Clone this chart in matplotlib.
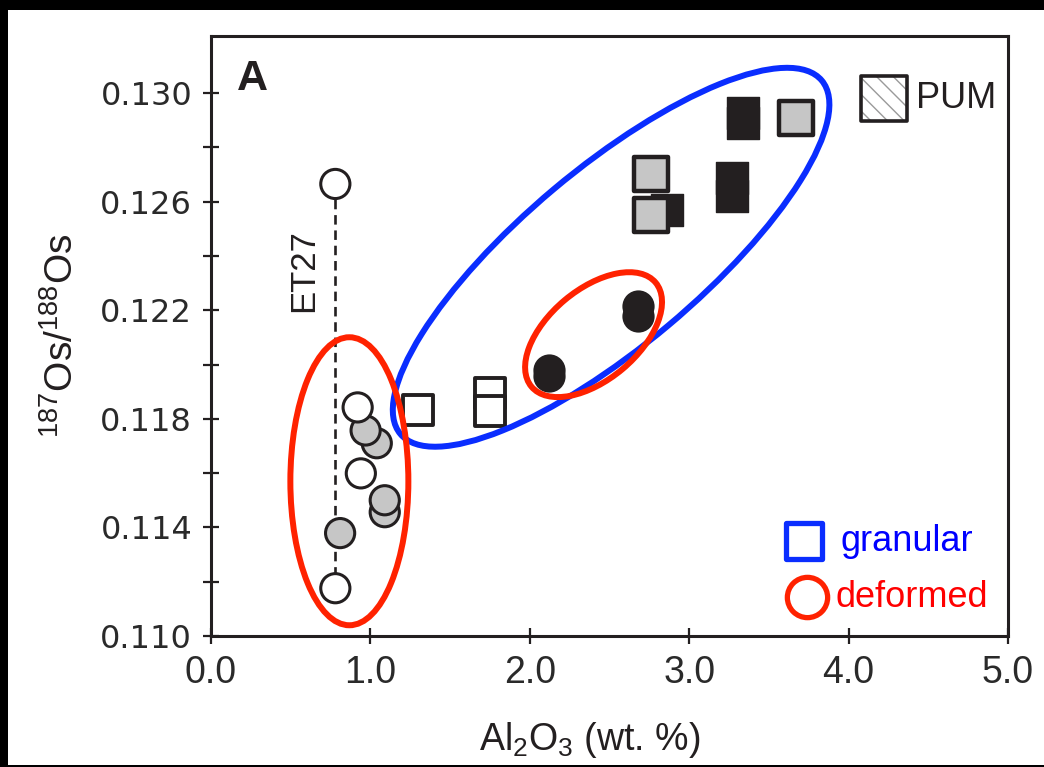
import numpy as np
import matplotlib
matplotlib.use('Agg')
import matplotlib.pyplot as plt
from matplotlib.patches import Ellipse, Rectangle
from matplotlib.markers import MarkerStyle
from matplotlib.transforms import ScaledTranslation
from matplotlib import font_manager

# ---------------- data: Al2O3 (wt.%) vs 187Os/188Os ----------------
# deformed samples (circles)
open_circ_al = [0.78, 0.92, 0.94, 0.78]
open_circ_os = [0.12665, 0.11842, 0.11599, 0.11176]
gray_circ_al = [0.81, 0.97, 1.04, 1.09, 1.09]
gray_circ_os = [0.11379, 0.11757, 0.11710, 0.11500, 0.11456]
black_circ_al = [2.12, 2.12, 2.68, 2.68]
black_circ_os = [0.11956, 0.11978, 0.12178, 0.12216]

# granular samples (squares)
open_sq_al = [1.30, 1.75, 1.75]
open_sq_os = [0.11833, 0.11895, 0.11829]
black_sq_al = [2.86, 3.27, 3.27, 3.34, 3.34]
black_sq_os = [0.12570, 0.12686, 0.12620, 0.12925, 0.12888]
gray_sq_al = [2.76, 2.76, 3.67]
gray_sq_os = [0.12700, 0.12550, 0.12908]

# ET27 profile (top and bottom of the dashed line)
et27_al = [0.78, 0.78]
et27_os = [0.12665, 0.11176]

# primitive upper mantle
pum_al = [4.22]
pum_os = [0.1298]

x_ticks = [0.0, 1.0, 2.0, 3.0, 4.0, 5.0]
y_ticks = [0.110, 0.114, 0.118, 0.122, 0.126, 0.130]
y_minor = [0.112, 0.116, 0.120, 0.124, 0.128]

names = {f.name for f in font_manager.fontManager.ttflist}
narrow = 'Liberation Sans Narrow' if 'Liberation Sans Narrow' in names else 'Liberation Sans'

plt.rcParams['font.family'] = ['Liberation Sans', 'DejaVu Sans']
plt.rcParams['mathtext.fontset'] = 'custom'
plt.rcParams['mathtext.rm'] = 'Liberation Sans'
plt.rcParams['mathtext.it'] = 'Liberation Sans'

fig = plt.figure(figsize=(10.44, 7.67), dpi=100, facecolor='black')
fig.patches.append(Rectangle((8 / 1044, 2 / 767), 1036 / 1044, 755 / 767,
                             transform=fig.transFigure, facecolor='white',
                             edgecolor='none', zorder=-10))
ax = fig.add_axes([211 / 1044, 131 / 767, 797 / 1044, 600 / 767])
ax.set_facecolor('white')

ink = '#231f20'
gray = '#c6c6c6'

# ET27 dashed line
ax.plot(et27_al, et27_os, ls=(0, (3.6, 2.2)), color=ink, lw=1.9, zorder=1)

# circles
circ_al = open_circ_al + gray_circ_al
circ_os = open_circ_os + gray_circ_os
circ_fc = ['white'] * len(open_circ_al) + [gray] * len(gray_circ_al)
order = np.argsort(circ_os)
ax.scatter(np.array(circ_al)[order], np.array(circ_os)[order], s=21 ** 2,
           c=[circ_fc[i] for i in order], edgecolors=ink, linewidths=2.2, zorder=3)
ax.scatter(black_circ_al, black_circ_os, s=21 ** 2, c=ink, edgecolors=ink,
           linewidths=2.2, zorder=3)

# squares
ax.scatter(open_sq_al, open_sq_os, marker='s', s=22 ** 2, c='white',
           edgecolors=ink, linewidths=2.8, zorder=3)
ax.scatter(black_sq_al, black_sq_os, marker='s', s=23 ** 2, c=ink,
           edgecolors=ink, linewidths=1, zorder=3)
ax.scatter(gray_sq_al, gray_sq_os, marker='s', s=24 ** 2, c=gray,
           edgecolors=ink, linewidths=3.2, zorder=4)

# PUM
ax.scatter(pum_al, pum_os, marker='s', s=33 ** 2, c='white', edgecolors='#9a9a9a',
           hatch='\\\\', linewidths=0, zorder=3)
ax.scatter(pum_al, pum_os, marker='s', s=33 ** 2, facecolors='none',
           edgecolors=ink, linewidths=2.6, zorder=4)
ax.text(4.42, pum_os[0], 'PUM', fontsize=26, color=ink, va='center', ha='left')

ax.text(0.58, 0.12346, 'ET27', rotation=90, fontsize=25, color=ink,
        ha='center', va='center')
ax.text(0.16, 0.1305, 'A', fontsize=31, fontweight='bold', color=ink,
        ha='left', va='center')


def oval(cx, cy, w, h, angle, color):
    tr = fig.dpi_scale_trans + ScaledTranslation(cx, cy, ax.transData)
    ax.add_patch(Ellipse((0, 0), w, h, angle=angle, transform=tr, fill=False,
                         edgecolor=color, lw=4.3, zorder=6, clip_on=False))


oval(2.51, 0.12395, 5.5, 1.78, 40, '#0a2dff')
oval(0.868, 0.1157, 1.18, 2.88, 0, '#ff2200')
oval(2.40, 0.1211, 1.62, 0.90, 40, '#ff2200')

# hand-made legend
ax.plot([3.72], [0.11349], marker=MarkerStyle('s', joinstyle='round'), ms=26,
        mfc='white', mec='#0a2dff', mew=3.8, zorder=6)
ax.plot([3.74], [0.11143], marker='o', ms=29, mfc='white', mec='#ff2200',
        mew=3.8, zorder=6)
ax.text(3.95, 0.11349, 'granular', fontsize=26, color='#0000ff', va='center')
ax.text(3.92, 0.11143, 'deformed', fontsize=26, color='#ff0000', va='center')

ax.set_xlim(0, 5.0)
ax.set_ylim(0.110, 0.1321)
ax.set_xticks(x_ticks)
ax.set_xticklabels([f'{v:.1f}' for v in x_ticks], fontfamily=narrow, fontsize=27)
ax.set_yticks(y_ticks)
ax.set_yticklabels([f'{v:.3f}' for v in y_ticks], fontfamily='DejaVu Sans', fontsize=23)
ax.set_yticks(y_minor, minor=True)
ax.tick_params(which='both', direction='inout', length=11, width=1.6, color=ink,
               labelcolor='#2a2a2a')
ax.tick_params(axis='x', pad=8)
ax.tick_params(axis='y', pad=8)
ax.tick_params(top=False, right=False)
for sp in ax.spines.values():
    sp.set_linewidth(2.2)
    sp.set_color(ink)

ax.set_xlabel(r'Al$_2$O$_3$ (wt. %)', fontfamily=narrow, fontsize=27, color=ink)
ax.xaxis.set_label_coords(0.4755, -0.14)
ax.set_ylabel(r'$^{187}$Os/$^{188}$Os', fontsize=28, color=ink)
ax.yaxis.set_label_coords(-0.163, 0.5)

fig.savefig('out.png', dpi=100, facecolor=fig.get_facecolor())
